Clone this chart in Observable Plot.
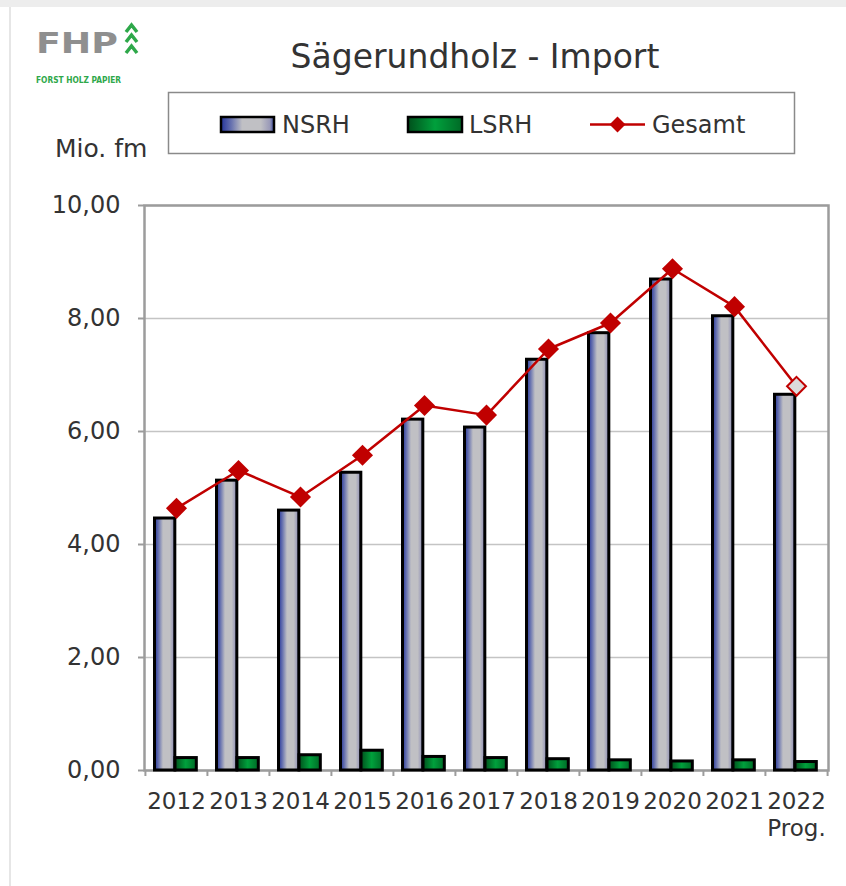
<!DOCTYPE html>
<html>
<head>
<meta charset="utf-8">
<script src="https://cdn.jsdelivr.net/npm/d3@7"></script>
<script src="https://cdn.jsdelivr.net/npm/@observablehq/plot@0.6"></script>
<style>
  html, body { margin: 0; padding: 0; background: #fff; }
  #wrap { position: relative; width: 846px; height: 886px; overflow: hidden; font-family: "DejaVu Sans", Verdana, sans-serif; color: #333; }
  #leftline { position: absolute; left: 9px; top: 7px; width: 2px; height: 879px; background: #e6e6e6; }
  #header { display: block; }
  #chart svg { display: block; overflow: visible; }
</style>
</head>
<body>
<div id="wrap">
  <svg id="header" width="846" height="180" xmlns="http://www.w3.org/2000/svg">
    <defs>
      <linearGradient id="lgN" x1="0" x2="1" y1="0" y2="0">
        <stop offset="0" stop-color="#24349a"/>
        <stop offset="0.2" stop-color="#6a74b0"/>
        <stop offset="0.4" stop-color="#c0c0c4"/>
        <stop offset="0.75" stop-color="#c0c0c4"/>
        <stop offset="0.92" stop-color="#9a9ab8"/>
        <stop offset="1" stop-color="#3a4aa0"/>
      </linearGradient>
      <linearGradient id="lgL" x1="0" x2="1" y1="0" y2="0">
        <stop offset="0" stop-color="#00501c"/>
        <stop offset="0.5" stop-color="#00a03c"/>
        <stop offset="1" stop-color="#006a26"/>
      </linearGradient>
    </defs>
    <rect x="0" y="0" width="846" height="7" fill="#ededed"/>
    <!-- logo -->
    <text x="36" y="53" font-family="DejaVu Sans, sans-serif" font-weight="bold" font-size="29" fill="#8f8f8f" textLength="82" lengthAdjust="spacingAndGlyphs">FHP</text>
    <g fill="none" stroke="#2ea84a" stroke-width="3.5" stroke-linejoin="miter">
      <path d="M126,32 L131.5,25 L137,32"/>
      <path d="M126,42 L131.5,35 L137,42"/>
      <path d="M126,53 L131.5,46 L137,53"/>
    </g>
    <text x="36" y="83" font-family="DejaVu Sans Condensed, DejaVu Sans, sans-serif" font-weight="bold" font-size="9.5" fill="#2ea84a" textLength="85" lengthAdjust="spacingAndGlyphs">FORST HOLZ PAPIER</text>
    <!-- title -->
    <text id="title" x="475" y="68" text-anchor="middle" font-family="DejaVu Sans, Verdana, sans-serif" font-size="33" fill="#333"></text>
    <!-- legend -->
    <rect x="168.5" y="92.5" width="626" height="61" fill="#fff" stroke="#8a8a8a" stroke-width="1.5"/>
    <g id="legend" font-family="DejaVu Sans, Verdana, sans-serif" font-size="24" fill="#333"></g>
    <text id="yunit" x="55" y="157" font-family="DejaVu Sans, Verdana, sans-serif" font-size="25" fill="#333"></text>
  </svg>
  <div id="chart"></div>
  <div id="leftline"></div>
</div>
<script>
// ---- data ----
const years = ["2012","2013","2014","2015","2016","2017","2018","2019","2020","2021","2022"];
const nsrh = [4.46, 5.13, 4.60, 5.27, 6.21, 6.07, 7.27, 7.74, 8.69, 8.04, 6.65];
const lsrh = [0.22, 0.22, 0.27, 0.35, 0.24, 0.22, 0.20, 0.18, 0.16, 0.18, 0.15];
const gesamt = [4.64, 5.31, 4.84, 5.58, 6.46, 6.29, 7.46, 7.92, 8.88, 8.21, 6.80];
const yTicks = [0, 2, 4, 6, 8, 10];
const forecastYear = "2022";
const forecastNote = "Prog.";
const seriesNames = ["NSRH", "LSRH", "Gesamt"];
const titleText = "Sägerundholz - Import";
const unitText = "Mio. fm";

// ---- header texts ----
document.getElementById("title").textContent = titleText;
document.getElementById("yunit").textContent = unitText;
const lg = d3.select("#legend");
// NSRH
lg.append("rect").attr("x", 221).attr("y", 117).attr("width", 53).attr("height", 15)
  .attr("fill", "url(#lgN)").attr("stroke", "#000").attr("stroke-width", 2.5);
lg.append("text").attr("x", 282).attr("y", 133).text(seriesNames[0]);
// LSRH
lg.append("rect").attr("x", 408).attr("y", 117).attr("width", 54).attr("height", 15)
  .attr("fill", "url(#lgL)").attr("stroke", "#000").attr("stroke-width", 2.5);
lg.append("text").attr("x", 469).attr("y", 133).text(seriesNames[1]);
// Gesamt
lg.append("line").attr("x1", 590).attr("x2", 645).attr("y1", 124.5).attr("y2", 124.5)
  .attr("stroke", "#c00000").attr("stroke-width", 2.5);
lg.append("path").attr("d", "M617.5,116.5 L625.5,124.5 L617.5,132.5 L609.5,124.5 Z").attr("fill", "#c00000");
lg.append("text").attr("x", 652).attr("y", 133).text(seriesNames[2]);

// ---- chart ----
const W = 846, H = 706, mL = 144, mR = 18, mT = 25, mB = 116;
const bw = (W - mL - mR) / years.length;
const data = years.map((year, i) => ({year, nsrh: nsrh[i], lsrh: lsrh[i], gesamt: gesamt[i]}));
const actual = data.filter(d => d.year !== forecastYear);
const forecast = data.filter(d => d.year === forecastYear);
const fmt = d => d3.format(".2f")(d).replace(".", ",");
const font = "DejaVu Sans, Verdana, sans-serif";

const plot = Plot.plot({
  width: W, height: H,
  marginLeft: mL, marginRight: mR, marginTop: mT, marginBottom: mB,
  style: {fontFamily: font, color: "#333", background: "transparent", overflow: "visible"},
  x: {type: "band", domain: years, padding: 0, axis: null},
  y: {domain: [0, 10], axis: null},
  marks: [
    Plot.gridY(yTicks, {stroke: "#c4c4c4", strokeOpacity: 1, strokeWidth: 1.5}),
    Plot.frame({stroke: "#9c9c9c", strokeWidth: 2.5}),
    Plot.barY(data, {x: "year", y: "nsrh", fill: "url(#gN)", stroke: "#000", strokeWidth: 3,
      insetLeft: 9.5, insetRight: bw - 30}),
    Plot.barY(data, {x: "year", y: "lsrh", fill: "url(#gL)", stroke: "#000", strokeWidth: 3,
      insetLeft: 30, insetRight: bw - 51.5}),
    Plot.line(data, {x: "year", y: "gesamt", stroke: "#c00000", strokeWidth: 2.5}),
    Plot.dot(actual, {x: "year", y: "gesamt", symbol: "diamond2", r: 9.5, fill: "#c00000", stroke: "none"}),
    Plot.dot(forecast, {x: "year", y: "gesamt", symbol: "diamond2", r: 8.5, fill: "#dcdcdc", stroke: "#c00000", strokeWidth: 2}),
    Plot.axisY(yTicks, {tickSize: 6, tickPadding: 18, tickFormat: fmt, fontSize: 24, stroke: "#9c9c9c", strokeWidth: 2, fill: "#333", label: null}),
    Plot.axisX({tickSize: 0, tickPadding: 22, fontSize: 23, fill: "#333", label: null}),
    Plot.axisX({tickSize: 6, dx: -bw / 2, tickFormat: () => "", stroke: "#9c9c9c", strokeWidth: 2, label: null}),
    Plot.axisX([years[years.length - 1]], {tickSize: 6, dx: bw / 2, tickFormat: () => "", stroke: "#9c9c9c", strokeWidth: 2, label: null}),
    Plot.text(forecast, {x: "year", y: () => 0, text: () => forecastNote, dy: 58, fontSize: 23, fill: "#333"})
  ]
});

const defs = d3.select(plot).insert("defs", ":first-child");
const gN = defs.append("linearGradient").attr("id", "gN").attr("x1", 0).attr("x2", 1).attr("y1", 0).attr("y2", 0);
[[0, "#24349a"], [0.2, "#6a74b0"], [0.42, "#c0c0c4"], [0.75, "#c0c0c4"], [0.92, "#9a9ab8"], [1, "#3a4aa0"]].forEach(([o, c]) =>
  gN.append("stop").attr("offset", o).attr("stop-color", c));
const gL = defs.append("linearGradient").attr("id", "gL").attr("x1", 0).attr("x2", 1).attr("y1", 0).attr("y2", 0);
[[0, "#00501c"], [0.5, "#00a03c"], [1, "#006a26"]].forEach(([o, c]) =>
  gL.append("stop").attr("offset", o).attr("stop-color", c));

document.getElementById("chart").appendChild(plot);
</script>
</body>
</html>
